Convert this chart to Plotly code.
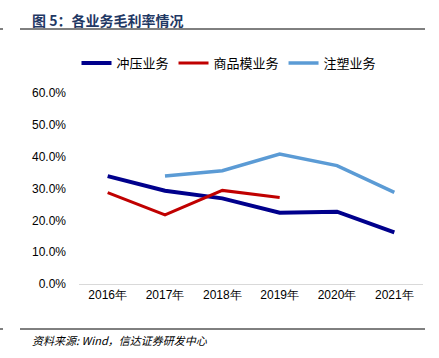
import plotly.graph_objects as go

years = ["2016年", "2017年", "2018年", "2019年", "2020年", "2021年"]
stamping = [33.9, 29.3, 26.9, 22.4, 22.7, 16.2]
mold = [28.7, 21.7, 29.4, 27.2, None, None]
injection = [None, 33.9, 35.6, 40.8, 37.2, 28.8]
y_ticks = [0, 10, 20, 30, 40, 50, 60]
y_tick_text = ["0.0%", "10.0%", "20.0%", "30.0%", "40.0%", "50.0%", "60.0%"]

W, H = 439, 358
L, R, T, B = 79, 16, 93, 74
pw, ph = W - L - R, H - T - B

def px(x):
    return (x - L) / pw

def py(y):
    return (H - B - y) / ph

fig = go.Figure()
fig.add_trace(go.Scatter(x=years, y=stamping, name="冲压业务", mode="lines",
                         line=dict(color="#00008C", width=4)))
fig.add_trace(go.Scatter(x=years, y=mold, name="商品模业务", mode="lines",
                         line=dict(color="#C00000", width=3)))
fig.add_trace(go.Scatter(x=years, y=injection, name="注塑业务", mode="lines",
                         line=dict(color="#5B9BD5", width=3.5)))

cjk = "Noto Sans CJK SC, Liberation Sans, sans-serif"

fig.update_layout(
    width=W, height=H,
    margin=dict(l=L, r=R, t=T, b=B, pad=0),
    plot_bgcolor="white", paper_bgcolor="white",
    showlegend=True,
    legend=dict(orientation="h", x=px(229), y=py(63), xanchor="center", yanchor="middle",
                font=dict(family=cjk, size=13, color="#000000"),
                itemwidth=30, tracegroupgap=0, bgcolor="rgba(0,0,0,0)"),
    xaxis=dict(type="category", showgrid=False, showline=True, linecolor="#D9D9D9",
               linewidth=1, ticks="", tickfont=dict(family="Liberation Sans, Arial", size=12, color="#000000"),
               range=[-0.5, 5.5], fixedrange=True),
    yaxis=dict(range=[0, 60], tickvals=y_ticks, ticktext=y_tick_text, showgrid=False,
               zeroline=False, showline=False, ticks="",
               tickfont=dict(family="Liberation Sans, Arial", size=12, color="#000000"),
               ticklabelstandoff=12, fixedrange=True),
    font=dict(family=cjk),
)

shapes = []
for yline in (29, 329):
    shapes.append(dict(type="line", xref="paper", yref="paper",
                       x0=px(20), x1=px(425), y0=py(yline), y1=py(yline),
                       line=dict(color="#000000", width=1)))
    shapes.append(dict(type="line", xref="paper", yref="paper",
                       x0=px(0), x1=px(3), y0=py(yline), y1=py(yline),
                       line=dict(color="#000000", width=1)))
fig.update_layout(shapes=shapes)

fig.add_annotation(text="<b>图 5：各业务毛利率情况</b>", xref="paper", yref="paper",
                   x=px(30), y=py(20), xanchor="left", yanchor="middle", showarrow=False,
                   font=dict(family=cjk, size=14, color="#1F3864"))
fig.add_annotation(text="<i>资料来源: Wind，信达证券研发中心</i>", xref="paper", yref="paper",
                   x=px(30), y=py(340), xanchor="left", yanchor="middle", showarrow=False,
                   font=dict(family=cjk, size=11, color="#000000", style="italic"))

fig.write_html("out.html", config={"displayModeBar": False},
               post_script="document.body.style.margin='0';document.body.style.overflow='hidden';")
